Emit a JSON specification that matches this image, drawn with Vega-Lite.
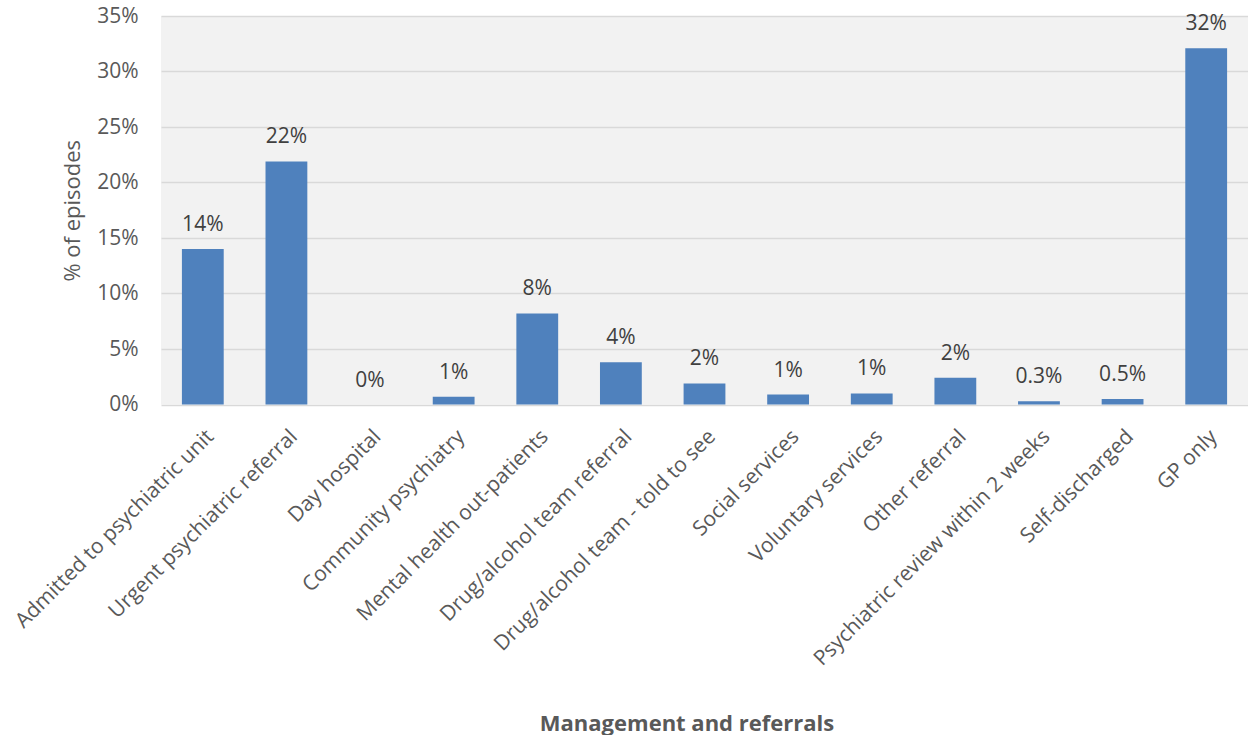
{
  "$schema": "https://vega.github.io/schema/vega-lite/v6.json",
  "autosize": "none",
  "width": 1087,
  "height": 388.5,
  "padding": {"left": 161, "top": 16, "right": 0, "bottom": 330.5},
  "background": "white",
  "config": {
    "view": {"fill": "#f2f2f2", "stroke": null},
    "font": "Open Sans"
  },
  "data": {
    "values": [
      {"category": "Admitted to psychiatric unit", "share": 0.140},
      {"category": "Urgent psychiatric referral", "share": 0.219},
      {"category": "Day hospital", "share": 0.0},
      {"category": "Community psychiatry", "share": 0.007},
      {"category": "Mental health out-patients", "share": 0.082},
      {"category": "Drug/alcohol team referral", "share": 0.038},
      {"category": "Drug/alcohol team - told to see", "share": 0.019},
      {"category": "Social services", "share": 0.009},
      {"category": "Voluntary services", "share": 0.010},
      {"category": "Other referral", "share": 0.024},
      {"category": "Psychiatric review within 2 weeks", "share": 0.003},
      {"category": "Self-discharged", "share": 0.005},
      {"category": "GP only", "share": 0.321}
    ]
  },
  "transform": [
    {"calculate": "datum.share > 0 && datum.share < 0.006 ? format(datum.share, '.1%') : format(datum.share, '.0%')", "as": "label"}
  ],
  "encoding": {
    "x": {
      "field": "category",
      "type": "nominal",
      "sort": null,
      "scale": {"paddingInner": 0.5, "paddingOuter": 0.25},
      "axis": {
        "title": "Management and referrals",
        "titleFont": "Open Sans",
        "titleFontSize": 22,
        "titleFontWeight": "bold",
        "titleColor": "#595959",
        "titleX": 525.5,
        "titleY": 325.5,
        "titleAlign": "center",
        "titleBaseline": "alphabetic",
        "labelAngle": -45,
        "labelAlign": "right",
        "labelBaseline": "top",
        "labelPadding": 21,
        "labelFontSize": 21,
        "labelColor": "#595959",
        "labelLimit": 500,
        "labelOverlap": false,
        "ticks": false,
        "tickSize": 0,
        "domain": false
      }
    },
    "y": {
      "field": "share",
      "type": "quantitative",
      "scale": {"domain": [0, 0.35], "nice": false},
      "axis": {
        "title": "% of episodes",
        "titleFontSize": 22,
        "titleFontWeight": "normal",
        "titleColor": "#595959",
        "titlePadding": 12,
        "format": ".0%",
        "values": [0, 0.05, 0.1, 0.15, 0.2, 0.25, 0.3, 0.35],
        "labelFontSize": 21,
        "labelColor": "#595959",
        "labelPadding": 23,
        "ticks": false,
        "tickSize": 0,
        "domain": false,
        "grid": true,
        "gridColor": "#d9d9d9",
        "gridWidth": 1.3
      }
    }
  },
  "layer": [
    {"mark": {"type": "bar", "color": "#4f81bd"}},
    {
      "mark": {"type": "text", "baseline": "alphabetic", "dy": -18, "fontSize": 21, "color": "#404040"},
      "encoding": {"text": {"field": "label"}}
    }
  ]
}
